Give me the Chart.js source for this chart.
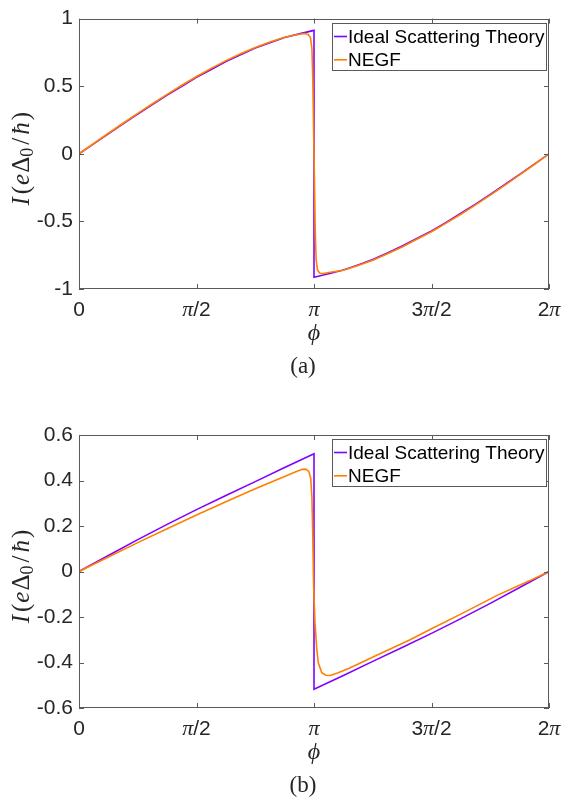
<!DOCTYPE html>
<html><head><meta charset="utf-8">
<script src="https://cdn.jsdelivr.net/npm/chart.js@4.4.1/dist/chart.umd.min.js"></script>
<style>
html,body{margin:0;padding:0;background:#fff;}
.wrap{position:absolute;left:0;width:562px;height:400px;}
</style></head><body>
<div class="wrap" style="top:0"><canvas id="ca"></canvas></div>
<div class="wrap" style="top:400px"><canvas id="cb"></canvas></div>
<script>
// ---------- data ----------
const seriesNames = ['Ideal Scattering Theory', 'NEGF'];
const seriesColors = ['#8000ff', '#ff8000'];
const xTickValues = [0, 0.5, 1, 1.5, 2];           // phase in units of pi
const xTickLabels = ['0', 'π/2', 'π', '3π/2', '2π'];

// panel (a)
const yTickValuesA = [-1, -0.5, 0, 0.5, 1];
const yTickLabelsA = ['-1', '-0.5', '0', '0.5', '1'];
const phiIdealA = [0,0.0625,0.125,0.1875,0.25,0.3125,0.375,0.4375,0.5,0.5625,0.625,0.6875,0.75,0.8125,0.875,0.9375,1,
                   1,1.0625,1.125,1.1875,1.25,1.3125,1.375,1.4375,1.5,1.5625,1.625,1.6875,1.75,1.8125,1.875,1.9375,2];
const idealA = [0,0.074,0.148,0.221,0.294,0.364,0.434,0.50,0.565,0.624,0.682,0.733,0.782,0.822,0.860,0.887,0.913,
                -0.913,-0.887,-0.860,-0.822,-0.782,-0.733,-0.682,-0.626,-0.570,-0.507,-0.440,-0.372,-0.300,-0.227,-0.152,-0.076,0];
const phiNegfA = [0,0.0625,0.125,0.1875,0.25,0.3125,0.375,0.4375,0.5,0.5625,0.625,0.6875,0.75,0.8125,0.875,0.9375,0.96,0.975,0.985,0.991,0.995,0.998,
                  1.002,1.005,1.009,1.015,1.025,1.04,1.0625,1.125,1.1875,1.25,1.3125,1.375,1.4375,1.5,1.5625,1.625,1.6875,1.75,1.8125,1.875,1.9375,2];
const negfA = [0,0.076,0.152,0.226,0.299,0.37,0.44,0.507,0.572,0.632,0.689,0.74,0.787,0.827,0.862,0.884,0.89,0.882,0.86,0.78,0.55,0.2,
               -0.2,-0.55,-0.78,-0.86,-0.883,-0.886,-0.878,-0.862,-0.827,-0.788,-0.74,-0.689,-0.632,-0.576,-0.513,-0.447,-0.378,-0.306,-0.232,-0.156,-0.079,0];

// panel (b)
const yTickValuesB = [-0.6, -0.4, -0.2, 0, 0.2, 0.4, 0.6];
const yTickLabelsB = ['-0.6', '-0.4', '-0.2', '0', '0.2', '0.4', '0.6'];
const phiIdealB = [0,0.125,0.25,0.375,0.5,0.625,0.75,0.875,1,1,1.125,1.25,1.375,1.5,1.625,1.75,1.875,2];
const idealB = [0,0.07,0.14,0.207,0.272,0.334,0.395,0.457,0.518,-0.518,-0.457,-0.395,-0.334,-0.272,-0.207,-0.14,-0.07,0];
const phiNegfB = [0,0.125,0.25,0.375,0.5,0.625,0.75,0.875,0.92,0.95,0.965,0.978,0.986,0.991,0.995,0.998,
                  1.004,1.011,1.018,1.033,1.05,1.07,1.1,1.15,1.267,1.409,1.5,1.635,1.777,1.919,2];
const negfB = [0,0.064,0.127,0.188,0.248,0.307,0.364,0.418,0.437,0.449,0.45,0.44,0.41,0.33,0.15,-0.05,
               -0.22,-0.33,-0.40,-0.445,-0.456,-0.457,-0.446,-0.425,-0.368,-0.300,-0.252,-0.182,-0.106,-0.04,0];

// ---------- drawing helpers ----------
const SANS = '"Liberation Sans", Arial, Helvetica, sans-serif';
const SERIF = '"Liberation Serif", "Times New Roman", serif';
const TXT = '#262626';

function drawRun(ctx, parts, x, y, align) {
  let w = 0;
  parts.forEach(p => { ctx.font = p.f; p.w = ctx.measureText(p.t).width; w += p.w + (p.gap || 0); });
  let cx = align === 'center' ? x - w / 2 : x;
  parts.forEach(p => {
    ctx.font = p.f;
    ctx.fillText(p.t, cx, y + (p.dy || 0));
    cx += p.w + (p.gap || 0);
  });
}

function toPts(xs, ys) { return xs.map((v, i) => ({ x: v, y: ys[i] })); }

const framePlugin = {
  id: 'frame',
  afterDatasetsDraw(chart, args, opts) {
    const ctx = chart.ctx, a = chart.chartArea;
    const xs = chart.scales.x, ys = chart.scales.y;
    ctx.save();
    // box
    ctx.strokeStyle = '#5a5a5a';
    ctx.lineWidth = 1;
    ctx.strokeRect(Math.round(a.left) + 0.5, Math.round(a.top) + 0.5, Math.round(a.right - a.left) - 1, Math.round(a.bottom - a.top) - 1);
    // inward ticks
    ctx.beginPath();
    xTickValues.forEach(v => {
      const px = Math.round(xs.getPixelForValue(v)) + 0.5;
      ctx.moveTo(px, a.bottom); ctx.lineTo(px, a.bottom - 5);
      ctx.moveTo(px, a.top); ctx.lineTo(px, a.top + 5);
    });
    opts.yVals.forEach(v => {
      const py = Math.round(ys.getPixelForValue(v)) + 0.5;
      ctx.moveTo(a.left, py); ctx.lineTo(a.left + 5, py);
      ctx.moveTo(a.right, py); ctx.lineTo(a.right - 5, py);
    });
    ctx.stroke();

    // x tick labels (mixed fonts)
    ctx.fillStyle = TXT;
    ctx.textBaseline = 'middle';
    xTickValues.forEach((v, i) => {
      const px = xs.getPixelForValue(v);
      const parts = [];
      for (const ch of xTickLabels[i]) {
        if (ch === 'π') parts.push({ t: ch, f: 'italic 22px ' + SERIF });
        else parts.push({ t: ch, f: '21px ' + SANS });
      }
      drawRun(ctx, parts, px, a.bottom + 21, 'center');
    });

    // x title
    ctx.font = 'italic 24px ' + SERIF;
    ctx.textAlign = 'center';
    ctx.fillText('ϕ', (a.left + a.right) / 2, a.bottom + 45);
    ctx.textAlign = 'left';

    // caption
    drawRun(ctx, [{ t: '(' + opts.caption + ')', f: '23px ' + SERIF }], 303, a.bottom + 78, 'center');

    // y title (rotated)
    ctx.save();
    ctx.translate(21, (a.top + a.bottom) / 2 + 5);
    ctx.rotate(-Math.PI / 2);
    ctx.textBaseline = 'alphabetic';
    const F = '25px ' + SERIF, FI = 'italic 25px ' + SERIF;
    drawRun(ctx, [
      { t: 'I', f: FI, gap: 3 }, { t: '(', f: F, gap: 1 }, { t: 'e', f: FI, gap: 1 }, { t: 'Δ', f: F, gap: 0 },
      { t: '0', f: '18px ' + SERIF, dy: 4, gap: 3 }, { t: '/', f: F, gap: 3 }, { t: 'ħ', f: FI, gap: 2 }, { t: ')', f: F }
    ], 0, 8, 'center');
    ctx.restore();

    // legend
    const lw = 214, lh = 47;
    const lx = Math.round(a.right) - 3 - lw, ly = Math.round(a.top) + 4;
    ctx.fillStyle = '#ffffff';
    ctx.fillRect(lx, ly, lw, lh);
    ctx.strokeStyle = '#5a5a5a';
    ctx.strokeRect(lx + 0.5, ly + 0.5, lw, lh);
    chart.data.datasets.forEach((ds, i) => {
      const ry = ly + 13.5 + i * 23.3;
      ctx.strokeStyle = ds.borderColor;
      ctx.lineWidth = 1.6;
      ctx.beginPath(); ctx.moveTo(lx + 2, ry); ctx.lineTo(lx + 15, ry); ctx.stroke();
      ctx.fillStyle = '#000';
      ctx.font = '19px ' + SANS;
      ctx.textBaseline = 'middle';
      ctx.fillText(ds.label, lx + 16, ry + 1);
    });
    ctx.restore();
  }
};

function makeChart(id, phiI, vI, phiN, vN, yVals, yLabels, topPad, bottomH, caption) {
  return new Chart(document.getElementById(id), {
    type: 'line',
    data: {
      datasets: [
        { label: seriesNames[0], data: toPts(phiI, vI), borderColor: seriesColors[0], borderWidth: 1.6, pointRadius: 0, order: 1, tension: 0 },
        { label: seriesNames[1], data: toPts(phiN, vN), borderColor: seriesColors[1], borderWidth: 1.6, pointRadius: 0, order: 0, tension: 0 }
      ]
    },
    options: {
      responsive: true,
      maintainAspectRatio: false,
      animation: false,
      events: [],
      layout: { padding: { top: topPad, right: 13, left: 0, bottom: 0 } },
      plugins: { legend: { display: false }, tooltip: { enabled: false }, frame: { yVals: yVals, caption: caption } },
      scales: {
        x: {
          type: 'linear', min: 0, max: 2,
          afterBuildTicks: s => { s.ticks = xTickValues.map(v => ({ value: v })); },
          ticks: { display: false },
          grid: { display: false, drawTicks: false },
          border: { display: false },
          afterFit: s => { s.height = bottomH; }
        },
        y: {
          min: yVals[0], max: yVals[yVals.length - 1],
          afterBuildTicks: s => { s.ticks = yVals.map(v => ({ value: v })); },
          ticks: {
            callback: (v, i) => yLabels[i],
            font: { family: SANS, size: 21 }, color: TXT, padding: 6, autoSkip: false
          },
          grid: { display: false, drawTicks: false },
          border: { display: false },
          afterFit: s => { s.width = 79; }
        }
      }
    },
    plugins: [framePlugin]
  });
}

makeChart('ca', phiIdealA, idealA, phiNegfA, negfA, yTickValuesA, yTickLabelsA, 16, 111, 'a');
makeChart('cb', phiIdealB, idealB, phiNegfB, negfB, yTickValuesB, yTickLabelsB, 35, 92, 'b');
</script>
</body></html>
